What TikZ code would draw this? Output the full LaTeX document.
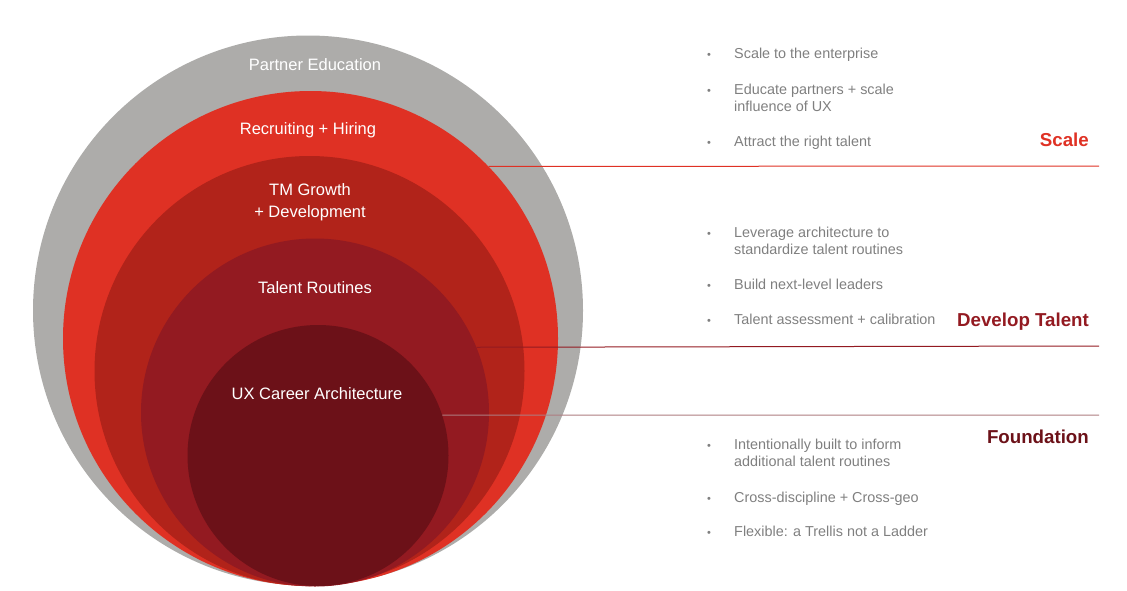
\documentclass[tikz,border=0pt]{standalone}
\usepackage{fontspec}
\setmainfont{Liberation Sans}
\definecolor{ringgray}{HTML}{ADACAA}
\definecolor{ringred}{HTML}{DF3124}
\definecolor{ringmid}{HTML}{B1231A}
\definecolor{ringdeep}{HTML}{931A21}
\definecolor{ringcore}{HTML}{6C1118}
\definecolor{bodygray}{HTML}{7F7F7F}
\tikzset{
  ring/.style={circle, draw=none, inner sep=0pt, minimum size=#1},
  ringlabel/.style={text=white, anchor=base, inner sep=0pt, align=center,
    font=\fontsize{16.5}{22}\selectfont},
  item/.style={text=bodygray, anchor=base west, inner sep=0pt, align=left,
    font=\fontsize{14.4}{17.5}\selectfont},
  dot/.style={text=bodygray, anchor=base, inner sep=0pt,
    font=\fontsize{11}{12}\selectfont},
  heading/.style={anchor=base east, inner sep=0pt,
    font=\fontsize{18.7}{22}\selectfont\bfseries},
  divider/.style={line width=1pt}
}
\begin{document}
\begin{tikzpicture}[x=1pt, y=-1pt]
  \useasboundingbox (0,0) rectangle (1127,590);

  % nested rings, outermost first
  \node[ring=550pt, fill=ringgray] (partner) at (308,310.5) {};
  \node[ring=495pt, fill=ringred] (recruit) at (310.5,338.5) {};
  \node[ring=430pt, fill=ringmid] (growth) at (309.5,371) {};
  \node[ring=348pt, fill=ringdeep] (routines) at (315,412.5) {};
  \node[ring=261pt, fill=ringcore] (career) at (318,455.5) {};

  % ring labels (multi-line nodes sit on their last baseline)
  \node[ringlabel] (lpartner) at (315,70) {Partner Education};
  \node[ringlabel] (lrecruit) at (308,134) {Recruiting + Hiring};
  \node[ringlabel] (lgrowth) at (310,217) {TM Growth\\+ Development};
  \node[ringlabel] (lroutines) at (315,293) {Talent Routines};
  \node[ringlabel] (lcareer) at (317,399) {UX Career Architecture};

  % dividers from the rings out to the right margin
  \coordinate (scaleend) at (1099,166);
  \coordinate (developend) at (1099,346);
  \coordinate (foundend) at (1099,415);
  \draw[divider, ringred] (recruit.44.2) -- (scaleend);
  \draw[divider, ringdeep] (routines.22.5) -- (developend);
  \draw[divider, ringcore!55] (career.18.1) -- (foundend);

  % Scale
  \node[dot] (b1) at (709,58) {\textbullet};
  \node[item] (t1) at (734,58) {Scale to the enterprise};
  \node[dot] (b2) at (709,94) {\textbullet};
  \node[item] (t2) at (734,111.5) {Educate partners + scale\\influence of UX};
  \node[dot] (b3) at (709,146) {\textbullet};
  \node[item] (t3) at (734,146) {Attract the right talent};
  \node[heading, text=ringred] (hscale) at (1089,146) {Scale};

  % Develop Talent
  \node[dot] (b4) at (709,237) {\textbullet};
  \node[item] (t4) at (734,254.5) {Leverage architecture to\\standardize talent routines};
  \node[dot] (b5) at (709,289) {\textbullet};
  \node[item] (t5) at (734,289) {Build next-level leaders};
  \node[dot] (b6) at (709,324) {\textbullet};
  \node[item] (t6) at (734,324) {Talent assessment + calibration};
  \node[heading, text=ringdeep] (hdevelop) at (1089,326) {Develop Talent};

  % Foundation
  \node[heading, text=ringcore] (hfound) at (1089,443) {Foundation};
  \node[dot] (b7) at (709,449) {\textbullet};
  \node[item] (t7) at (734,466.5) {Intentionally built to inform\\additional talent routines};
  \node[dot] (b8) at (709,502) {\textbullet};
  \node[item] (t8) at (734,502) {Cross-discipline + Cross-geo};
  \node[dot] (b9) at (709,536) {\textbullet};
  \node[item] (t9) at (734,536) {Flexible: a Trellis not a Ladder};
\end{tikzpicture}
\end{document}
